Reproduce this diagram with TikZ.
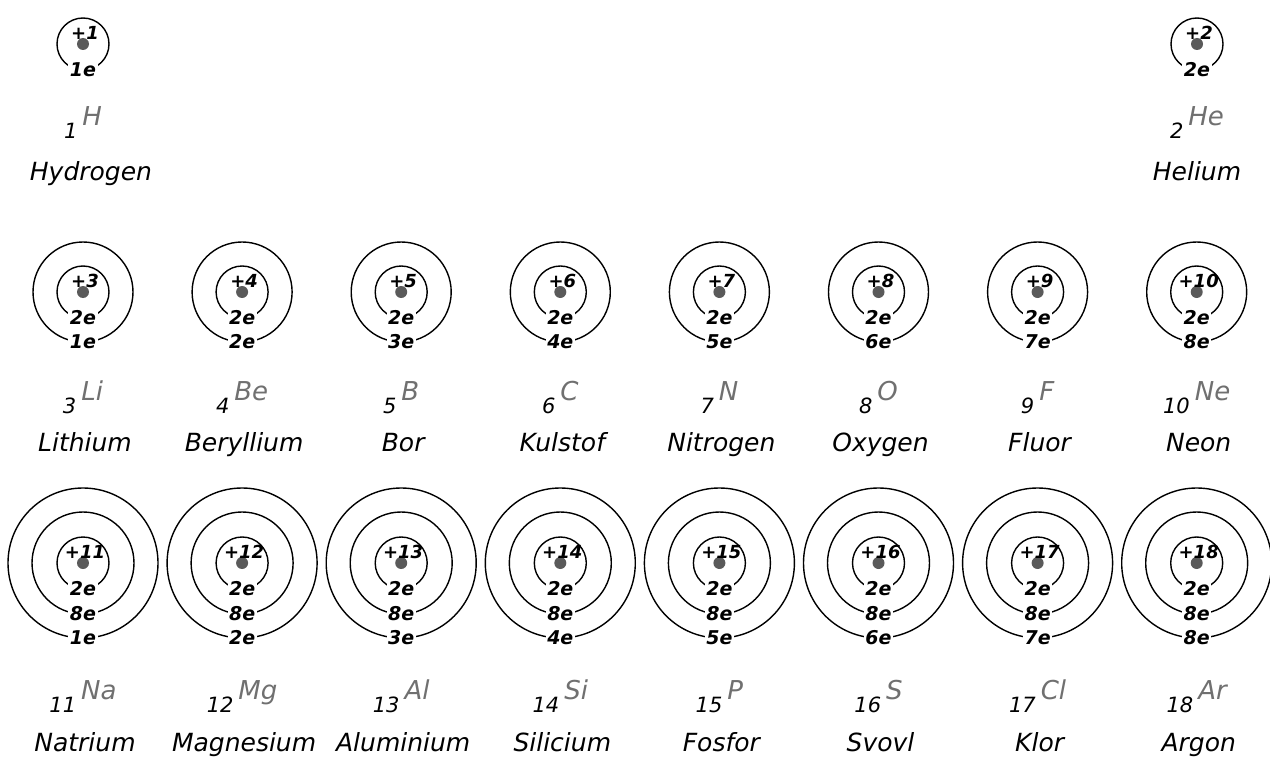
\documentclass[tikz,border=0pt]{standalone}
\usepackage{fontspec}
\setmainfont{DejaVu Sans}
\usepackage{tikz}
\usetikzlibrary{calc}

\definecolor{symgray}{RGB}{112,112,112}
\definecolor{coregray}{RGB}{90,90,90}

% atomic number with the raised element symbol
\newcommand{\elsym}[2]{#1\hspace{5pt}{\color{symgray}\fontsize{26}{26}\selectfont\raisebox{13pt}{#2}}}

\begin{document}
\begin{tikzpicture}[x=1pt,y=-1pt,
    shell/.style={line width=1.4pt},
    core/.style={fill=coregray},
    charge/.style={font=\fontsize{18}{18}\selectfont\bfseries\itshape, inner sep=0pt},
    elec/.style={font=\fontsize{19}{19}\selectfont\bfseries\itshape, fill=white, inner sep=1.5pt},
    zsym/.style={font=\fontsize{21}{21}\selectfont\itshape, inner sep=0pt, anchor=base},
    ename/.style={font=\fontsize{25}{25}\selectfont\itshape, inner sep=0pt, anchor=base}]

\useasboundingbox (0,0) rectangle (1270,760);

% Hydrogen
\draw[shell] (83,44) circle (26pt);
\fill[core] (83,44) circle (6pt);
\node[charge] (q1) at (85,33) {+1};
\node[elec] (e1a) at (83,70) {1e};
\node[zsym] (sym1) at (83,138) {\elsym{1}{H}};
\node[ename] (name1) at (91,180) {Hydrogen};

% Helium
\draw[shell] (1197,44) circle (26pt);
\fill[core] (1197,44) circle (6pt);
\node[charge] (q2) at (1199,33) {+2};
\node[elec] (e2a) at (1197,70) {2e};
\node[zsym] (sym2) at (1197,138) {\elsym{2}{He}};
\node[ename] (name2) at (1197,180) {Helium};

% Second period: two shells
\foreach \col/\z/\sym/\name/\outer in {
    0/3/Li/Lithium/1, 1/4/Be/Beryllium/2, 2/5/B/Bor/3, 3/6/C/Kulstof/4,
    4/7/N/Nitrogen/5, 5/8/O/Oxygen/6, 6/9/F/Fluor/7, 7/10/Ne/Neon/8} {
  \pgfmathsetmacro{\x}{83+159.1*\col}
  \draw[shell] (\x,292) circle (26pt);
  \draw[shell] (\x,292) circle (50pt);
  \fill[core] (\x,292) circle (6pt);
  \node[charge] (q\z) at (\x+2,281) {+\z};
  \node[elec] (e\z a) at (\x,318) {2e};
  \node[elec] (e\z b) at (\x,342) {\outer e};
  \node[zsym] (sym\z) at (\x,413) {\elsym{\z}{\sym}};
  \node[ename] (name\z) at (\x+2,451) {\name};
}

% Third period: three shells
\foreach \col/\z/\sym/\name/\outer in {
    0/11/Na/Natrium/1, 1/12/Mg/Magnesium/2, 2/13/Al/Aluminium/3, 3/14/Si/Silicium/4,
    4/15/P/Fosfor/5, 5/16/S/Svovl/6, 6/17/Cl/Klor/7, 7/18/Ar/Argon/8} {
  \pgfmathsetmacro{\x}{83+159.1*\col}
  \draw[shell] (\x,563) circle (26pt);
  \draw[shell] (\x,563) circle (51pt);
  \draw[shell] (\x,563) circle (75pt);
  \fill[core] (\x,563) circle (6pt);
  \node[charge] (q\z) at (\x+2,552) {+\z};
  \node[elec] (e\z a) at (\x,589) {2e};
  \node[elec] (e\z b) at (\x,614) {8e};
  \node[elec] (e\z c) at (\x,638) {\outer e};
  \node[zsym] (sym\z) at (\x,712) {\elsym{\z}{\sym}};
  \node[ename] (name\z) at (\x+2,751) {\name};
}

\end{tikzpicture}
\end{document}
